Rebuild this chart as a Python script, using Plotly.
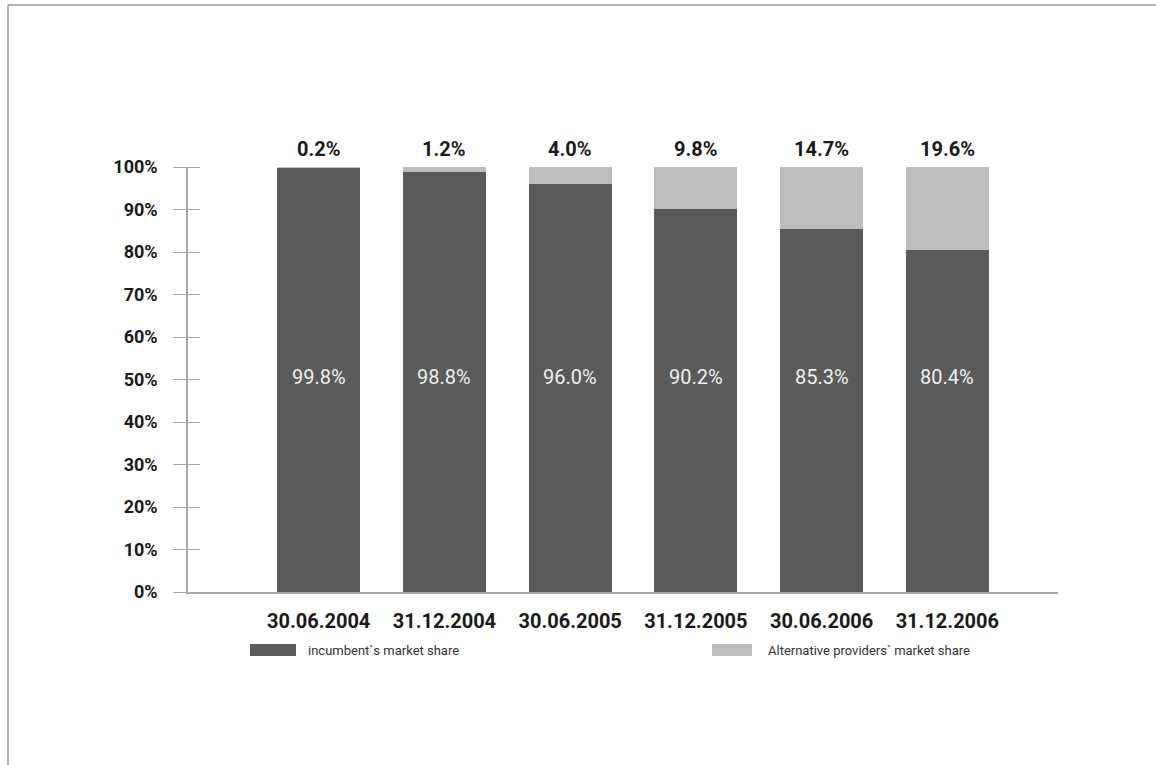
import plotly.graph_objects as go

categories = ["30.06.2004", "31.12.2004", "30.06.2005", "31.12.2005", "30.06.2006", "31.12.2006"]
incumbent = [99.8, 98.8, 96.0, 90.2, 85.3, 80.4]
alternative = [0.2, 1.2, 4.0, 9.8, 14.7, 19.6]
tick_vals = [0, 10, 20, 30, 40, 50, 60, 70, 80, 90, 100]
tick_text = [f"{v}%" for v in tick_vals]
legend_names = ["incumbent`s market share", "Alternative providers` market share"]

FONT = "Roboto, Liberation Sans, sans-serif"
DARK = "#5a5a5a"
LIGHT = "#bdbdbd"
AXIS = "#a8a8a8"

W, H = 1156, 765
L, R, T, B = 188, 98, 167, 173
PW, PH = W - L - R, H - T - B

def px_x(x):
    return (x - L) / PW

def px_y(y):
    return (H - B - y) / PH

xidx = list(range(len(categories)))

fig = go.Figure()
fig.add_trace(go.Bar(
    x=xidx, y=incumbent, name=legend_names[0],
    marker=dict(color=DARK, line=dict(width=0)),
    width=0.66, showlegend=False, hoverinfo="y",
))
fig.add_trace(go.Bar(
    x=xidx, y=alternative, name=legend_names[1],
    marker=dict(color=LIGHT, line=dict(width=0)),
    width=0.66, showlegend=False, hoverinfo="y",
))

# inside labels (at 50%) and top labels
for i, (a, b) in enumerate(zip(incumbent, alternative)):
    fig.add_annotation(x=i, y=50, text=f"{a:.1f}%", showarrow=False, yshift=3,
                       font=dict(family=FONT, size=20, color="#f0f0f0"))
    fig.add_annotation(x=i, y=a + b, text=f"<b>{b:.1f}%</b>", showarrow=False,
                       yanchor="bottom", yshift=4,
                       font=dict(family=FONT, size=20, color="#1a1a1a"))

# legend drawn manually
LEG_Y = 650
fig.add_shape(type="rect", xref="paper", yref="paper",
              x0=px_x(250), x1=px_x(296), y0=px_y(LEG_Y + 6), y1=px_y(LEG_Y - 6),
              fillcolor=DARK, line=dict(width=0))
fig.add_annotation(xref="paper", yref="paper", x=px_x(306), y=px_y(LEG_Y),
                   xanchor="left", yanchor="middle",
                   text=legend_names[0], showarrow=False,
                   font=dict(family=FONT, size=13, color="#333333"))
fig.add_shape(type="rect", xref="paper", yref="paper",
              x0=px_x(712), x1=px_x(752), y0=px_y(LEG_Y + 6), y1=px_y(LEG_Y - 6),
              fillcolor=LIGHT, line=dict(width=0))
fig.add_annotation(xref="paper", yref="paper", x=px_x(766), y=px_y(LEG_Y),
                   xanchor="left", yanchor="middle",
                   text=legend_names[1], showarrow=False,
                   font=dict(family=FONT, size=13, color="#333333"))

# frame border lines (top and left)
fig.add_shape(type="line", xref="paper", yref="paper",
              x0=px_x(8), x1=px_x(1160), y0=px_y(5), y1=px_y(5),
              line=dict(color="#9a9a9a", width=1.5))
fig.add_shape(type="line", xref="paper", yref="paper",
              x0=px_x(8), x1=px_x(8), y0=px_y(5), y1=px_y(770),
              line=dict(color="#9a9a9a", width=1.5))

fig.update_layout(
    width=W, height=H,
    margin=dict(l=L, r=R, t=T, b=B),
    paper_bgcolor="white", plot_bgcolor="white",
    barmode="stack",
    showlegend=False,
    font=dict(family=FONT),
)
fig.update_xaxes(
    range=[-1.039, 5.88], tickvals=xidx,
    ticktext=[f"<b>{c}</b>" for c in categories],
    showline=True, linecolor=AXIS, linewidth=1.5,
    ticks="", showgrid=False, zeroline=False,
    tickfont=dict(family=FONT, size=20, color="#1a1a1a"),
    ticklabelstandoff=10,
)
fig.update_yaxes(
    range=[0, 100], tickvals=tick_vals,
    ticktext=[f"<b>{t}</b>" for t in tick_text],
    showline=True, linecolor=AXIS, linewidth=1.5,
    ticks="outside", ticklen=13, tickcolor=AXIS, tickwidth=1,
    minor=dict(tickvals=tick_vals, ticks="inside", ticklen=12, tickcolor=AXIS, tickwidth=1),
    showgrid=False, zeroline=False,
    tickfont=dict(family=FONT, size=18, color="#1a1a1a"),
    ticklabelstandoff=12,
)

fig.write_html("out.html")
